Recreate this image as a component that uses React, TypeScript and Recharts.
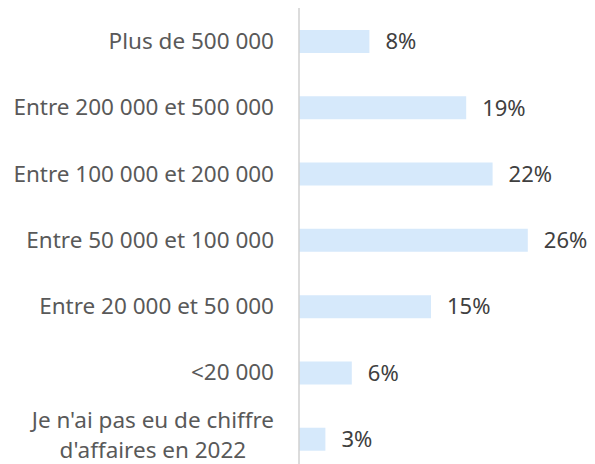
import React from "react";
import { BarChart, Bar, XAxis, YAxis, LabelList } from "recharts";

// Turnover brackets, top to bottom
const categories = [
  "Plus de 500 000",
  "Entre 200 000 et 500 000",
  "Entre 100 000 et 200 000",
  "Entre 50 000 et 100 000",
  "Entre 20 000 et 50 000",
  "<20 000",
  "Je n'ai pas eu de chiffre\nd'affaires en 2022",
];
const shares = [8, 19, 22, 26, 15, 6, 3];

const data = categories.map((name, i) => ({ name, value: shares[i] }));

const FONT = "'Noto Sans', sans-serif";
const TICK_SIZE = 22.5;

let ctx: CanvasRenderingContext2D | null = null;
const measure = (s: string) => {
  if (!ctx) ctx = document.createElement("canvas").getContext("2d");
  if (!ctx) return s.length * TICK_SIZE * 0.5;
  ctx.font = `${TICK_SIZE}px 'Noto Sans'`;
  return ctx.measureText(s).width;
};

const CategoryTick = (props: any) => {
  const { x, y, payload } = props;
  const lines: string[] = String(payload.value).split("\n");
  if (lines.length === 1) {
    return (
      <text x={x} y={y} dy="0.35em" textAnchor="end" fill="#595959" fontSize={TICK_SIZE} fontFamily={FONT}>
        {lines[0]}
      </text>
    );
  }
  // multi-line label: centred block, right edge on the tick position
  const w = Math.max(...lines.map(measure));
  const cx = x - w / 2;
  const lh = 30;
  const top = y - 4 - ((lines.length - 1) * lh) / 2;
  return (
    <text x={cx} y={top} textAnchor="middle" fill="#595959" fontSize={TICK_SIZE} fontFamily={FONT}>
      {lines.map((l, i) => (
        <tspan key={i} x={cx} y={top + i * lh} dy="0.35em">
          {l}
        </tspan>
      ))}
    </text>
  );
};

const App: React.FC = () => {
  return (
    <div style={{ position: "absolute", left: 0, top: 0, background: "#fff" }}>
      <BarChart
        width={595}
        height={480}
        data={data}
        layout="vertical"
        margin={{ top: 8, right: 32, bottom: 8, left: 0 }}
        barCategoryGap={0}
      >
        <XAxis type="number" domain={[0, 30]} hide />
        <YAxis
          type="category"
          dataKey="name"
          width={299}
          tickLine={false}
          tickMargin={19}
          axisLine={{ stroke: "#D0D0D0", strokeWidth: 1.5 }}
          tick={<CategoryTick />}
          interval={0}
        />
        <Bar dataKey="value" fill="#D6E9FB" barSize={23} isAnimationActive={false}>
          <LabelList
            dataKey="value"
            position="right"
            offset={16}
            formatter={(v: any) => `${v}%`}
            fill="#404040"
            fontSize={22}
            fontFamily={FONT}
          />
        </Bar>
      </BarChart>
    </div>
  );
};

export default App;
